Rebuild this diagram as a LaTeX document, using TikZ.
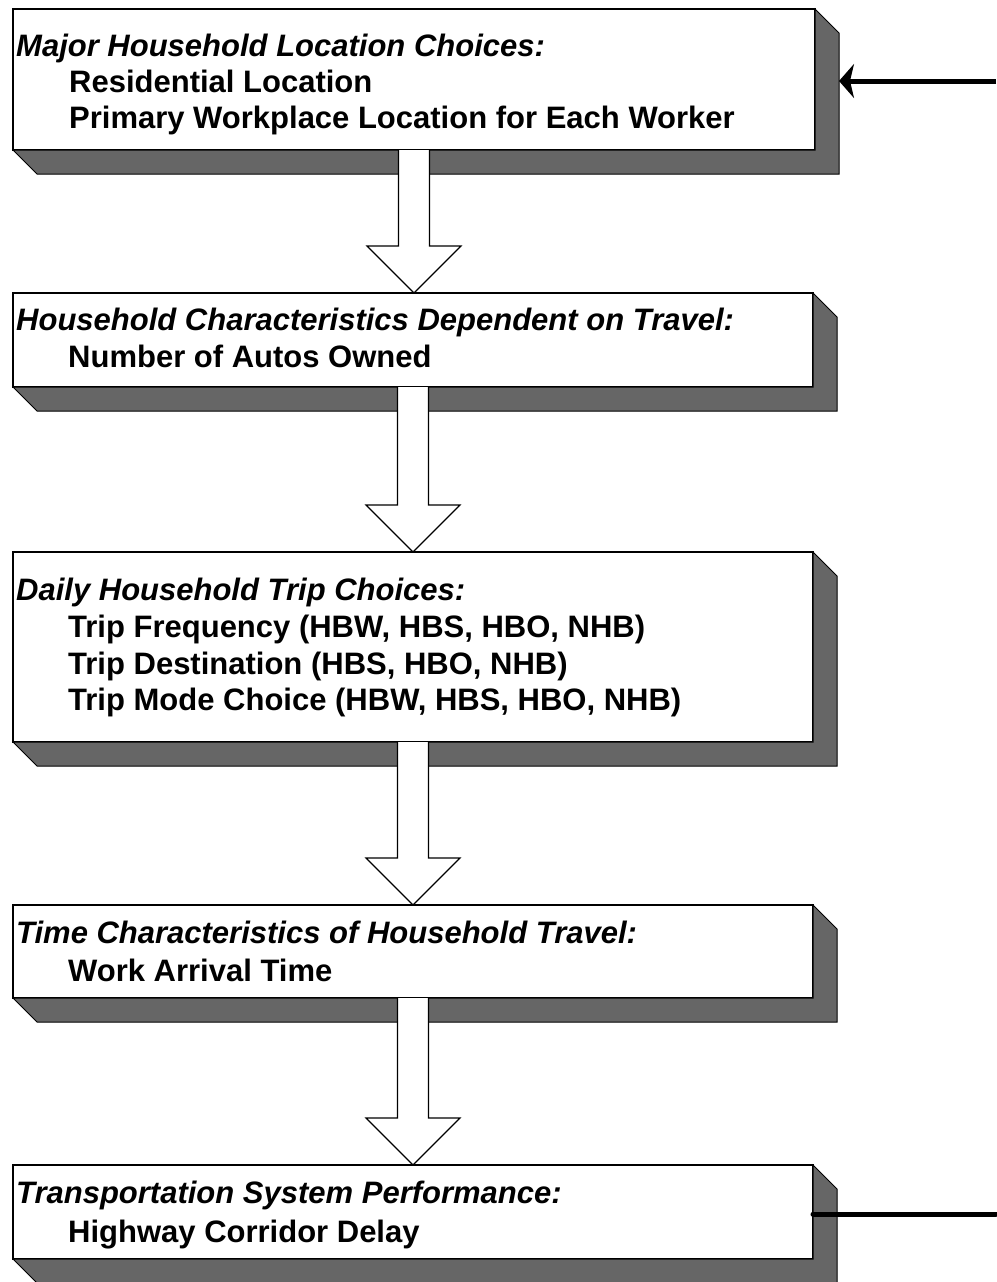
\documentclass[tikz,border=0pt]{standalone}
\usepackage{fontspec}
\setmainfont{Liberation Sans}
\newfontfamily\hdrfont{Liberation Sans}[UprightFont={* Bold Italic}]
\newfontfamily\itmfont{Liberation Sans}[UprightFont={* Bold}]
\usetikzlibrary{calc,arrows.meta}
\tikzset{
  front/.style={draw=black, line width=1.2pt, fill=white, inner sep=0pt, outer sep=0pt, anchor=north west},
  depth/.style={fill=black!60, draw=black, line width=1pt, line join=miter},
  hdr/.style={font=\hdrfont\fontsize{31}{32}\selectfont, anchor=base west, inner sep=0pt},
  itm/.style={font=\itmfont\fontsize{31}{32}\selectfont, anchor=base west, inner sep=0pt},
  blockarrow/.style={draw=black, line width=1.1pt, fill=white, line join=miter},
  feed/.style={line width=5pt, draw=black},
}
\newcommand{\extrude}[1]{%
  \filldraw[depth] (#1.south west) -- ++(24,24) -- ($(#1.south east)+(24,24)$)
    -- ($(#1.north east)+(24,24)$) -- (#1.north east) -- (#1.south east) -- cycle;}
\newcommand{\blockarr}[2]{%
  \coordinate (tmpT) at (#1.south |- #2.north);
  \filldraw[blockarrow] ($(#1.south)+(-15.5,0)$) -- ($(tmpT)+(-15.5,-47)$)
    -- ($(tmpT)+(-47,-47)$) -- (tmpT) -- ($(tmpT)+(47,-47)$)
    -- ($(tmpT)+(15.5,-47)$) -- ($(#1.south)+(15.5,0)$);}
\begin{document}
\begin{tikzpicture}[x=1pt,y=-1pt]
\fill[white] (0,0) rectangle (996,1282);
\useasboundingbox (0,0) rectangle (996,1282);

% boxes
\node[front, minimum width=802pt, minimum height=141pt] (b1) at (13,9) {};
\node[front, minimum width=800pt, minimum height=94pt]  (b2) at (13,293) {};
\node[front, minimum width=800pt, minimum height=190pt] (b3) at (13,552) {};
\node[front, minimum width=800pt, minimum height=93pt]  (b4) at (13,905) {};
\node[front, minimum width=800pt, minimum height=94pt]  (b5) at (13,1165) {};
\extrude{b1}\extrude{b2}\extrude{b3}\extrude{b4}\extrude{b5}

% texts
\node[hdr] (t1) at (16,56) {Major Household Location Choices:};
\node[itm] (t1a) at (69,92) {Residential Location};
\node[itm] (t1b) at (69,128) {Primary Workplace Location for Each Worker};

\node[hdr] (t2) at (16,330) {Household Characteristics Dependent on Travel:};
\node[itm] (t2a) at (68,367) {Number of Autos Owned};

\node[hdr] (t3) at (16,600) {Daily Household Trip Choices:};
\node[itm] (t3a) at (68,637) {Trip Frequency (HBW, HBS, HBO, NHB)};
\node[itm] (t3b) at (68,674) {Trip Destination (HBS, HBO, NHB)};
\node[itm] (t3c) at (68,710) {Trip Mode Choice (HBW, HBS, HBO, NHB)};

\node[hdr] (t4) at (16,943) {Time Characteristics of Household Travel:};
\node[itm] (t4a) at (68,981) {Work Arrival Time};

\node[hdr] (t5) at (16,1203) {Transportation System Performance:};
\node[itm] (t5a) at (68,1242) {Highway Corridor Delay};

% block arrows
\blockarr{b1}{b2}
\blockarr{b2}{b3}
\blockarr{b3}{b4}
\blockarr{b4}{b5}

% feedback lines
\coordinate (in1) at (996,81);
\draw[feed, -{Stealth[length=15pt,width=34pt,inset=4pt]}] (in1) -- ($(b1.east |- in1)+(24,0)$);
\coordinate (in5) at (996,1214);
\draw[feed, line cap=round] (in5) -- (b5.east |- in5);
\end{tikzpicture}
\end{document}
